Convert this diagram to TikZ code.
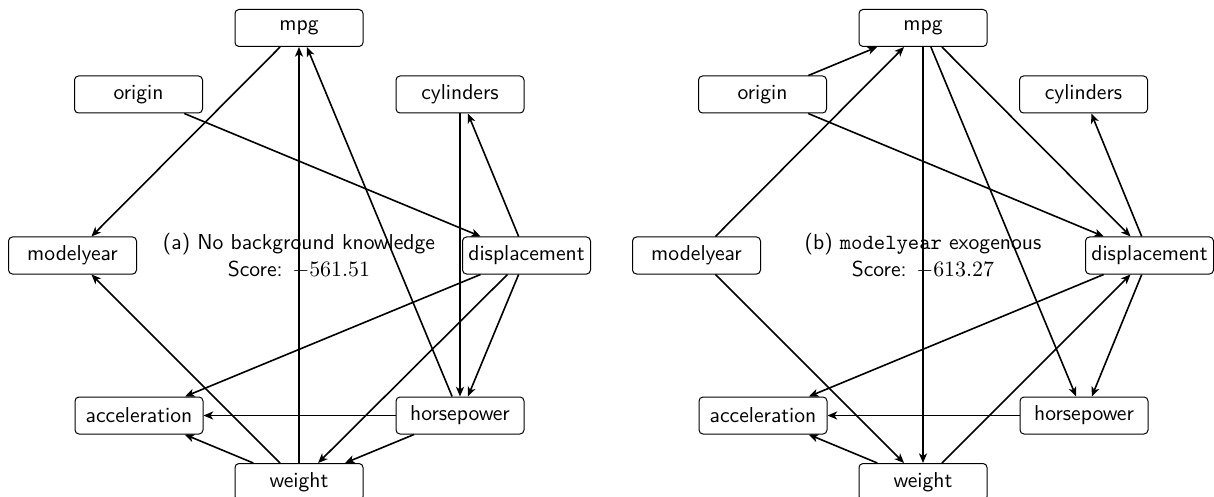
\documentclass[tikz,border=0pt]{standalone}
\usetikzlibrary{arrows.meta}
\begin{document}
\begin{tikzpicture}[x=0.5pt,y=-0.5pt,
  var/.style={draw, line width=0.5pt, rounded corners=2pt, minimum width=64pt,
    minimum height=18.5pt, inner sep=2.5pt, font=\sffamily\fontsize{10.8}{13}\selectfont},
  edge/.style={line width=0.8pt, -{Stealth[length=4.8pt,width=4pt,inset=1.3pt]}},
  capt/.style={align=center, font=\sffamily\fontsize{10.8}{13.5}\selectfont}]
\useasboundingbox (0,0) rectangle (1214,497);

% ---------- (a) ----------
\node[var] (a-mpg) at (299,28) {mpg};
\node[var] (a-ori) at (138.5,94.5) {origin};
\node[var] (a-cyl) at (460,94.5) {cylinders};
\node[var] (a-my)  at (72.5,255.5) {modelyear};
\node[var] (a-dis) at (526.5,255.5) {displacement};
\node[var] (a-acc) at (139,415.5) {acceleration};
\node[var] (a-hp)  at (460,415.5) {horsepower};
\node[var] (a-wt)  at (299,482) {weight};
\node[capt] (a-cap) at (299,255.5) {(a) No background knowledge\\Score: $-561.51$};

\draw[edge] (a-mpg) -- (a-my);
\draw[edge] (a-wt) -- (a-mpg);
\draw[edge] (a-hp) -- (a-mpg);
\draw[edge] (a-ori) -- (a-dis);
\draw[edge] (a-cyl) -- (a-hp);
\draw[edge] (a-dis) -- (a-cyl);
\draw[edge] (a-dis) -- (a-hp);
\draw[edge] (a-dis) -- (a-wt);
\draw[edge] (a-dis) -- (a-acc);
\draw[edge] (a-hp) -- (a-acc);
\draw[edge] (a-hp) -- (a-wt);
\draw[edge] (a-wt) -- (a-acc);
\draw[edge] (a-wt) -- (a-my);

% ---------- (b) ----------
\node[var] (b-mpg) at (923,28) {mpg};
\node[var] (b-ori) at (762.5,94.5) {origin};
\node[var] (b-cyl) at (1083.5,94.5) {cylinders};
\node[var] (b-my)  at (696.5,255.5) {modelyear};
\node[var] (b-dis) at (1149.5,255.5) {displacement};
\node[var] (b-acc) at (763,415.5) {acceleration};
\node[var] (b-hp)  at (1084,415.5) {horsepower};
\node[var] (b-wt)  at (923,482) {weight};
\node[capt] (b-cap) at (923,255.5) {(b) \texttt{modelyear} exogenous\\Score: $-613.27$};

\draw[edge] (b-ori) -- (b-mpg);
\draw[edge] (b-my) -- (b-mpg);
\draw[edge] (b-mpg) -- (b-wt);
\draw[edge] (b-mpg) -- (b-hp);
\draw[edge] (b-mpg) -- (b-dis);
\draw[edge] (b-ori) -- (b-dis);
\draw[edge] (b-dis) -- (b-cyl);
\draw[edge] (b-dis) -- (b-hp);
\draw[edge] (b-wt) -- (b-dis);
\draw[edge] (b-dis) -- (b-acc);
\draw[edge] (b-hp) -- (b-acc);
\draw[edge] (b-wt) -- (b-acc);
\draw[edge] (b-my) -- (b-wt);
\end{tikzpicture}
\end{document}
